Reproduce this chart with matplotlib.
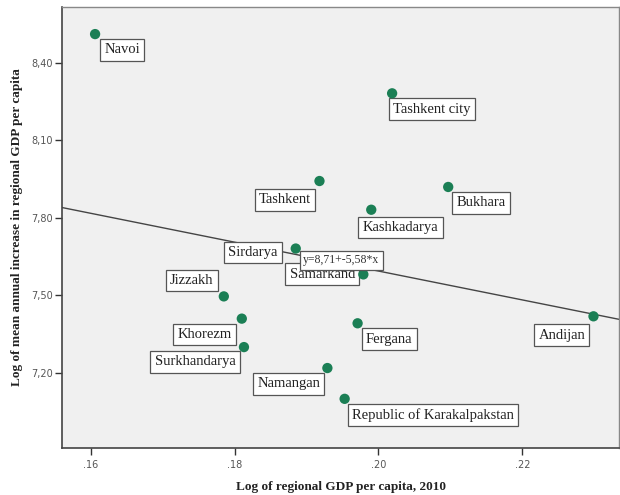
#Import modules
import numpy as np
import matplotlib
matplotlib.use('Agg')
import matplotlib.pyplot as plt
from matplotlib.ticker import FuncFormatter

#Region names and values
regions = ['Navoi', 'Tashkent city', 'Tashkent', 'Bukhara', 'Kashkadarya', 'Sirdarya',
           'Samarkand', 'Jizzakh', 'Khorezm', 'Surkhandarya', 'Fergana', 'Namangan',
           'Republic of Karakalpakstan', 'Andijan']
gdp_log = [0.1606, 0.2019, 0.1918, 0.2097, 0.1990, 0.1885,
           0.1979, 0.1785, 0.1810, 0.1813, 0.1971, 0.1929,
           0.1953, 0.2299]
growth_log = [8.51, 8.281, 7.942, 7.919, 7.831, 7.681,
              7.581, 7.496, 7.41, 7.30, 7.392, 7.219,
              7.10, 7.419]

#Fit line coefficients (from the chart)
fit_a = 8.71
fit_b = -5.58
fit_text = 'y=8,71+-5,58*x'

#Label box placement: (box dx px, box dy px, horizontal side, vertical side)
label_pos = [(5, -5, 'left', 'top'), (-3, -5, 'left', 'top'), (-4, -8, 'right', 'top'),
             (4, -5, 'left', 'top'), (-13, -7, 'left', 'top'), (-14, 7, 'right', 'top'),
             (-4, 11, 'right', 'top'), (-6, 5, 'right', 'bottom'), (-6, -5, 'right', 'top'),
             (-4, -4, 'right', 'top'), (4, -5, 'left', 'top'), (-3, -5, 'right', 'top'),
             (3, -5, 'left', 'top'), (-4, -8, 'right', 'top')]

fig = plt.figure(figsize=(6.2, 4.95), dpi=100)
ax = fig.add_axes([0.1, 0.095, 0.899, 0.891])
ax.set_facecolor('#f0f0f0')

xmin, xmax = 0.156, 0.2335
ymin, ymax = 6.91, 8.615
ax.set_xlim(xmin, xmax)
ax.set_ylim(ymin, ymax)

#Fit line
xfit = np.linspace(xmin, xmax, 50)
ax.plot(xfit, fit_a + fit_b * xfit, color='#454545', lw=1.0, zorder=2)

#Scatter points
ax.scatter(gdp_log, growth_log, s=55, color='#1b7f55', edgecolors='none', zorder=4)

#Labels in white boxes, offsets converted from box edge to text edge
fsize = 10.5
pad = 0.3
pad_px = pad * fsize / 72 * 100
box = dict(boxstyle='square,pad={}'.format(pad), fc='white', ec='#555555', lw=0.9)
for name, x, y, (dx, dy, ha, va) in zip(regions, gdp_log, growth_log, label_pos):
    tx = dx + pad_px if ha == 'left' else dx - pad_px
    ty = dy - pad_px if va == 'top' else dy + pad_px
    ax.annotate(name, (x, y), xytext=(tx, ty), textcoords='offset pixels',
                ha=ha, va=va, fontsize=fsize, family='Liberation Serif',
                color='#222222', bbox=box, zorder=3)

#Fit equation label, next to the Sirdarya point
eq_size = 8.5
eq_pad = eq_size * pad / 72 * 100
ax.annotate(fit_text, (gdp_log[5], growth_log[5]), xytext=(4 + eq_pad, -2 - eq_pad),
            textcoords='offset pixels', ha='left', va='top', fontsize=eq_size,
            family='Liberation Serif', color='#333333',
            bbox=dict(boxstyle='square,pad={}'.format(pad), fc='white', ec='#555555', lw=0.9),
            zorder=5)

#Ticks
ax.set_xticks([0.16, 0.18, 0.20, 0.22])
ax.set_yticks([7.20, 7.50, 7.80, 8.10, 8.40])
ax.xaxis.set_major_formatter(FuncFormatter(lambda v, p: '{:.2f}'.format(v).lstrip('0')))
ax.yaxis.set_major_formatter(FuncFormatter(lambda v, p: '{:.2f}'.format(v).replace('.', ',')))
ax.tick_params(direction='out', length=5, width=1, color='#333333',
               labelsize=7, labelcolor='#555555', top=False, right=False)
ax.tick_params(axis='y', pad=1.5)

for side in ['left', 'bottom']:
    ax.spines[side].set_color('#444444')
    ax.spines[side].set_linewidth(1.2)
for side in ['top', 'right']:
    ax.spines[side].set_color('#888888')
    ax.spines[side].set_linewidth(1.0)

#Axis labels
ax.set_xlabel('Log of regional GDP per capita, 2010', family='Liberation Serif',
              fontweight='bold', fontsize=9.5, color='#222222', labelpad=8)
ax.set_ylabel('Log of mean annual increase in regional GDP per capita', family='Liberation Serif',
              fontweight='bold', fontsize=9.5, color='#222222', labelpad=6)

fig.savefig('out.png', dpi=100)
